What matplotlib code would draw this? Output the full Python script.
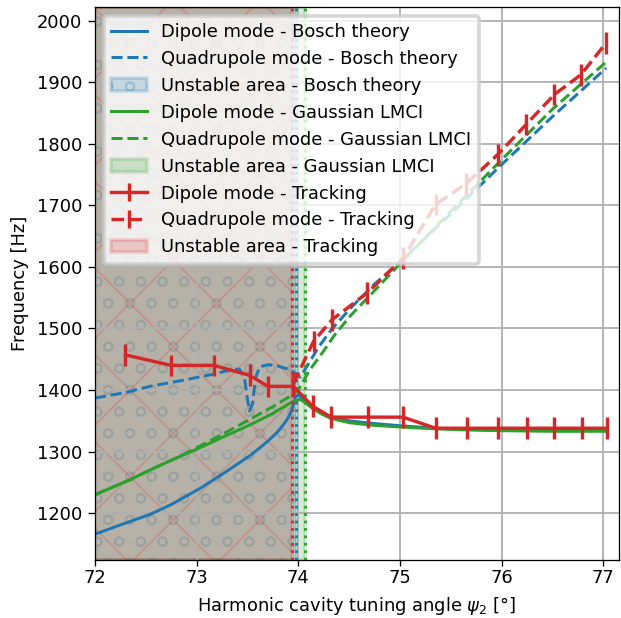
import numpy as np
import matplotlib
matplotlib.use("Agg")
import matplotlib.pyplot as plt

# pixel -> point helper (figure is drawn at 260 dpi)
DPI = 260
P = 72.0 / DPI

# Bosch theory
bosch_dip_x = [72.0, 72.25, 72.54, 72.75, 73.03, 73.25, 73.52, 73.62, 73.7, 73.79, 73.86, 73.9,
               73.93, 73.95, 73.975, 74.0, 74.07, 74.14, 74.23, 74.32, 74.5, 74.72, 75.0,
               75.35, 75.7, 76.0, 76.5, 77.03]
bosch_dip_y = [1166, 1181, 1198, 1214, 1240, 1263, 1293, 1306, 1317, 1331, 1345, 1355,
               1365, 1375, 1390, 1392, 1384, 1373, 1364, 1357, 1350, 1346, 1342,
               1338, 1336, 1335, 1335, 1335]
bosch_quad_x = [72.0, 72.3, 72.54, 72.87, 73.2, 73.33, 73.42, 73.47, 73.5, 73.52, 73.55, 73.58,
                73.62, 73.7, 73.78, 73.88, 73.94, 73.98, 74.02, 74.08, 74.2, 74.33, 74.52,
                74.75, 75.0, 75.5, 76.0, 76.5, 77.03]
bosch_quad_y = [1387, 1396, 1406, 1416, 1427, 1433, 1434, 1420, 1385, 1366, 1378, 1420,
                1438, 1441, 1440, 1435, 1431, 1425, 1421, 1437, 1470, 1499, 1534,
                1572, 1608, 1686, 1766, 1844, 1923]
bosch_edge = 73.975

# Gaussian LMCI
gauss_dip_x = [72.0, 72.34, 72.54, 72.75, 73.03, 73.25, 73.52, 73.75, 73.92, 74.02, 74.08,
               74.14, 74.23, 74.32, 74.5, 74.72, 75.0, 75.35, 75.7, 76.0, 76.5, 77.03]
gauss_dip_y = [1230, 1254, 1270, 1286, 1306, 1323, 1343, 1362, 1379, 1385, 1378,
               1370, 1361, 1354, 1347, 1343, 1340, 1337, 1335, 1334, 1333, 1333]
gauss_quad_x = [72.0, 72.34, 72.54, 72.75, 72.95, 73.25, 73.52, 73.75, 73.92, 74.0, 74.11,
                74.23, 74.36, 74.52, 74.69, 75.0, 75.5, 76.0, 76.5, 77.03]
gauss_quad_y = [1230, 1254, 1270, 1286, 1302, 1328, 1352, 1373, 1390, 1400, 1432,
                1459, 1490, 1522, 1551, 1605, 1690, 1774, 1856, 1933]
gauss_edge = 74.066

# Tracking
track_dip_x = [72.30, 72.75, 73.17, 73.52, 73.70, 73.95, 74.14, 74.32, 74.69, 75.03, 75.35,
               75.66, 75.96, 76.25, 76.52, 76.79, 77.04]
track_dip_y = [1457, 1440, 1440, 1424, 1406, 1406, 1374, 1356, 1356, 1356, 1338,
               1338, 1338, 1338, 1338, 1338, 1338]
track_quad_x = [73.95, 74.15, 74.33, 74.68, 75.03, 75.35, 75.65, 75.96, 76.24, 76.52, 76.78,
                77.03]
track_quad_y = [1410, 1479, 1514, 1558, 1614, 1701, 1735, 1782, 1831, 1880, 1912, 1964]
track_err = 17.5
track_edge = 73.935

fs = 17.9 * P
plt.rcParams.update({
    'font.size': fs,
    'hatch.linewidth': 2.0 * P,
    'axes.linewidth': 1.3 * P,
    'xtick.major.size': 6 * P,
    'ytick.major.size': 6.7 * P,
    'xtick.major.width': 1.3 * P,
    'ytick.major.width': 1.3 * P,
    'xtick.major.pad': 3 * P,
    'ytick.major.pad': 6 * P,
    'grid.linewidth': 1.8 * P,
})

fig = plt.figure(figsize=(621 / DPI, 618 / DPI), dpi=DPI)
ax = fig.add_axes([95 / 621, 58 / 618, 524 / 621, 553.3 / 618])

lw = 3.0 * P
tlw = 3.4 * P

h = []
h += ax.plot(bosch_dip_x, bosch_dip_y, color='C0', lw=lw, label='Dipole mode - Bosch theory')
h += ax.plot(bosch_quad_x, bosch_quad_y, color='C0', lw=lw, ls='--', label='Quadrupole mode - Bosch theory')
h.append(ax.axvspan(71, bosch_edge, color='C0', alpha=0.2, hatch='oo', label='Unstable area - Bosch theory'))
ax.axvline(bosch_edge, color='C0', ls=':', lw=2.8 * P)

h += ax.plot(gauss_dip_x, gauss_dip_y, color='C2', lw=lw, label='Dipole mode - Gaussian LMCI')
h += ax.plot(gauss_quad_x, gauss_quad_y, color='C2', lw=lw, ls='--', label='Quadrupole mode - Gaussian LMCI')
h.append(ax.axvspan(71, gauss_edge, color='C2', alpha=0.2, label='Unstable area - Gaussian LMCI'))
ax.axvline(gauss_edge, color='C2', ls=':', lw=2.8 * P)

h.append(ax.errorbar(track_dip_x, track_dip_y, yerr=track_err, color='C3', lw=tlw,
                     label='Dipole mode - Tracking'))
h.append(ax.errorbar(track_quad_x, track_quad_y, yerr=track_err, color='C3', lw=tlw, ls='--',
                     label='Quadrupole mode - Tracking'))
h.append(ax.axvspan(71, track_edge, color='C3', alpha=0.2, hatch='x', label='Unstable area - Tracking'))
ax.axvline(track_edge, color='C3', ls=':', lw=2.8 * P)

ax.set_xlim(72, 77.155)
ax.set_ylim(1124, 2022.5)
ax.set_xticks([72, 73, 74, 75, 76, 77])
ax.grid(True)
ax.set_xlabel(r'Harmonic cavity tuning angle $\psi_2$ [°]', labelpad=8 * P)
ax.set_ylabel('Frequency [Hz]', labelpad=8 * P)
ax.legend(handles=h, labels=[x.get_label() for x in h], loc='upper left')

fig.savefig('out.png', dpi=DPI)
